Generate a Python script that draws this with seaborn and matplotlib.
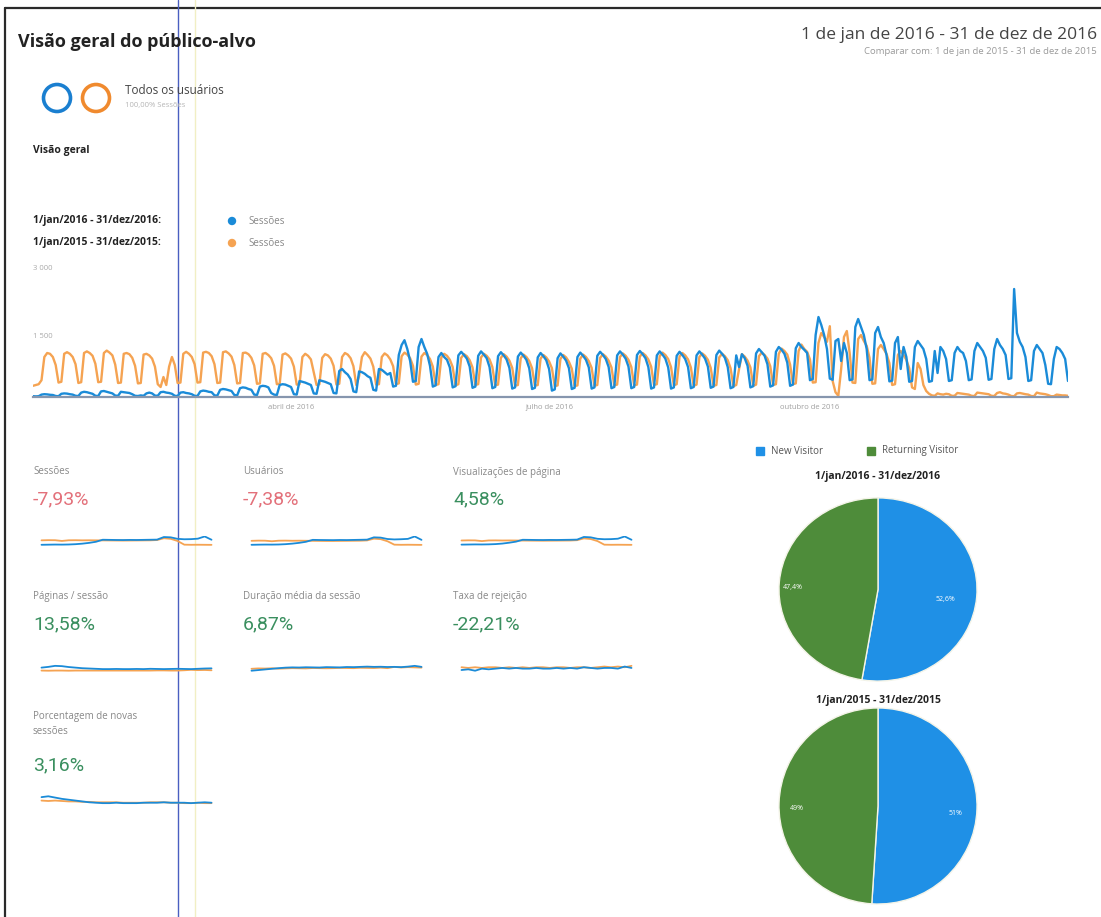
import numpy as np
import matplotlib.pyplot as plt
import matplotlib.patches as mpatches
import seaborn as sns

W, H = 1101, 917

# daily sessions, rows of 7 days starting on Fri 1 Jan
sessions_2016 = [
    20, 15, 20, 60, 70, 65, 55,
    50, 25, 20, 80, 90, 85, 70,
    60, 30, 25, 110, 130, 120, 100,
    80, 30, 25, 140, 150, 130, 110,
    90, 35, 30, 130, 120, 110, 100,
    70, 30, 25, 40, 30, 90, 110,
    90, 35, 30, 120, 130, 110, 100,
    80, 30, 25, 110, 120, 100, 90,
    70, 30, 25, 140, 160, 150, 130,
    120, 40, 35, 180, 200, 190, 170,
    150, 50, 40, 220, 240, 230, 200,
    180, 60, 50, 260, 280, 270, 240,
    100, 60, 50, 300, 320, 310, 280,
    250, 70, 60, 400, 380, 360, 330,
    300, 90, 80, 420, 400, 380, 350,
    320, 100, 90, 650, 700, 620, 560,
    450, 140, 120, 640, 620, 580, 520,
    480, 180, 160, 700, 680, 620, 560,
    600, 260, 280, 1050, 1300, 1420, 1200,
    900, 380, 400, 1250, 1450, 1250, 1080,
    780, 260, 290, 1000, 1100, 1000, 930,
    740, 240, 270, 1040, 1130, 1050, 960,
    760, 230, 260, 1030, 1140, 1060, 970,
    750, 220, 250, 1020, 1120, 1040, 940,
    730, 210, 240, 1010, 1110, 1030, 930,
    720, 200, 230, 990, 1100, 1020, 920,
    700, 160, 190, 970, 1090, 1010, 910,
    720, 200, 230, 1000, 1110, 1030, 930,
    740, 210, 240, 1030, 1130, 1050, 950,
    750, 220, 250, 1040, 1140, 1060, 960,
    760, 220, 250, 1050, 1150, 1070, 970,
    750, 210, 240, 1040, 1140, 1060, 960,
    740, 210, 240, 1030, 1130, 1050, 950,
    750, 220, 250, 1040, 1140, 1060, 960,
    760, 230, 260, 1050, 1160, 1080, 980,
    750, 220, 250, 1040, 750, 1070, 970,
    780, 240, 270, 1090, 1200, 1120, 1030,
    820, 260, 290, 1130, 1250, 1180, 1080,
    860, 280, 310, 1220, 1350, 1250, 1180,
    1100, 420, 450, 1550, 2000, 1800, 1550,
    1200, 460, 430, 1400, 1450, 900, 1350,
    1100, 420, 440, 1750, 1950, 1750, 1550,
    1200, 420, 440, 1600, 1750, 1500, 1350,
    1050, 390, 410, 1350, 1500, 700, 1250,
    1000, 380, 400, 1250, 1400, 1300, 1200,
    950, 380, 400, 1150, 600, 1250, 1150,
    950, 400, 420, 1100, 1250, 1150, 1100,
    900, 420, 440, 1150, 1350, 1250, 1150,
    980, 430, 450, 1200, 1450, 1300, 1200,
    1050, 450, 470, 2700, 1600, 1380, 1250,
    1000, 400, 420, 1150, 1300, 1200, 1100,
    800, 330, 320, 950, 1250, 1200, 1100,
    950, 400,
]

# same dates one year earlier (1 Jan 2015 was a Thursday)
sessions_2015 = [
    280,
    300, 320, 420, 1000, 1100, 1080, 1000,
    800, 360, 380, 1080, 1120, 1080, 1000,
    820, 350, 370, 1100, 1140, 1100, 1030,
    830, 370, 380, 1100, 1160, 1110, 1040,
    810, 350, 360, 1080, 1100, 1070, 980,
    780, 340, 350, 1060, 1080, 1040, 960,
    760, 320, 250, 500, 300, 760, 1000,
    800, 350, 360, 1080, 1130, 1080, 1000,
    820, 360, 370, 1110, 1130, 1100, 1020,
    820, 350, 360, 1120, 1140, 1090, 1010,
    800, 340, 350, 1100, 1110, 1070, 980,
    790, 330, 340, 1080, 1100, 1050, 970,
    780, 320, 330, 1060, 1090, 1040, 960,
    760, 310, 320, 1000, 1080, 1030, 940,
    620, 300, 320, 980, 1070, 1040, 960,
    780, 310, 330, 1000, 1100, 1060, 970,
    770, 300, 520, 1000, 1120, 1050, 960,
    760, 310, 320, 1000, 1090, 1040, 940,
    770, 320, 340, 1020, 1110, 1060, 970,
    780, 310, 330, 1010, 1100, 1050, 950,
    760, 300, 320, 990, 1080, 1030, 930,
    750, 290, 320, 980, 1070, 1020, 920,
    740, 300, 320, 990, 1080, 1030, 940,
    750, 290, 310, 980, 1070, 1010, 910,
    730, 280, 300, 970, 1060, 1000, 900,
    720, 280, 300, 960, 1050, 990, 890,
    720, 270, 290, 950, 1050, 990, 880,
    710, 270, 290, 960, 1060, 1000, 900,
    730, 280, 300, 980, 1070, 1010, 910,
    740, 290, 310, 1000, 1090, 1030, 930,
    750, 290, 310, 1010, 1100, 1040, 940,
    760, 300, 320, 1020, 1110, 1050, 950,
    750, 290, 320, 1010, 1100, 1040, 940,
    740, 280, 310, 1000, 1090, 1030, 930,
    730, 280, 300, 990, 1080, 1020, 920,
    720, 270, 300, 700, 1070, 1010, 910,
    740, 280, 310, 1020, 1110, 1050, 960,
    770, 300, 320, 1080, 1210, 1150, 1060,
    810, 320, 340, 1150, 1310, 1200, 1130,
    940, 360, 370, 1350, 1600, 1500, 1380,
    1770, 400, 120, 30, 700, 1500, 1650,
    1100, 360, 350, 1450, 1550, 1400, 1280,
    980, 330, 340, 1200, 1300, 1200, 1080,
    850, 300, 320, 1050, 1150, 1050, 930,
    720, 240, 200, 850, 700, 300, 150,
    80, 40, 30, 90, 70, 60, 80,
    70, 30, 30, 100, 90, 80, 70,
    60, 30, 25, 110, 100, 90, 80,
    70, 30, 25, 100, 120, 90, 80,
    60, 25, 20, 90, 100, 85, 70,
    60, 25, 20, 110, 90, 80, 70,
    50, 20, 20, 60, 50, 40, 40,
    30,
]

month_ticks = [91, 182, 274]
month_labels = ["abril de 2016", "julho de 2016", "outubro de 2016"]

# sparklines (two-week steps)
sessoes_2015 = [800, 830, 820, 700, 810, 820, 800, 810, 800, 790, 780, 770, 760, 770, 780, 790, 800, 850, 1150, 1050, 700, 80, 60, 70, 60, 50]
sessoes_2016 = [60, 80, 100, 90, 110, 160, 250, 380, 560, 900, 880, 860, 850, 870, 860, 880, 900, 920, 1350, 1300, 1050, 980, 1000, 1080, 1450, 900]
usuarios_2015 = [620, 650, 640, 560, 640, 650, 630, 640, 630, 620, 610, 600, 600, 610, 620, 630, 640, 680, 930, 860, 560, 70, 50, 60, 50, 40]
usuarios_2016 = [50, 70, 85, 80, 95, 140, 220, 330, 480, 760, 740, 730, 720, 740, 730, 750, 770, 790, 1120, 1080, 880, 820, 850, 900, 1250, 760]
visualizacoes_2015 = [880, 910, 900, 770, 890, 900, 880, 890, 880, 870, 860, 850, 840, 850, 860, 870, 880, 940, 1280, 1160, 770, 90, 70, 80, 70, 60]
visualizacoes_2016 = [100, 120, 140, 130, 150, 200, 300, 460, 660, 1020, 1000, 980, 970, 990, 980, 1000, 1020, 1050, 1550, 1480, 1200, 1120, 1140, 1220, 1650, 1020]
paginas_2015 = [1.10, 1.09, 1.10, 1.10, 1.09, 1.10, 1.10, 1.10, 1.10, 1.10, 1.10, 1.10, 1.10, 1.10, 1.10, 1.10, 1.10, 1.11, 1.11, 1.10, 1.10, 1.12, 1.15, 1.13, 1.14, 1.12]
paginas_2016 = [1.30, 1.35, 1.42, 1.40, 1.34, 1.30, 1.26, 1.24, 1.22, 1.20, 1.20, 1.21, 1.20, 1.20, 1.21, 1.20, 1.22, 1.21, 1.20, 1.21, 1.22, 1.21, 1.20, 1.22, 1.24, 1.25]
duracao_2015 = [95, 98, 97, 99, 96, 98, 100, 99, 98, 101, 100, 99, 100, 102, 101, 100, 103, 102, 101, 104, 100, 110, 105, 108, 106, 104]
duracao_2016 = [80, 85, 90, 95, 100, 104, 106, 105, 107, 106, 105, 108, 107, 106, 109, 108, 110, 112, 110, 111, 109, 110, 108, 112, 118, 110]
rejeicao_2015 = [62, 61, 62, 61, 62, 62, 61, 62, 61, 62, 61, 62, 62, 61, 62, 62, 61, 62, 62, 61, 62, 63, 62, 63, 62, 64]
rejeicao_2016 = [58, 59, 57, 60, 59, 60, 61, 60, 61, 60, 60, 61, 60, 60, 61, 60, 61, 60, 62, 61, 60, 61, 61, 60, 63, 61]
novas_2015 = [72, 71, 72, 71, 70, 70, 69, 69, 68, 68, 68, 68, 67, 67, 67, 67, 68, 68, 68, 67, 67, 66, 66, 67, 66, 66]
novas_2016 = [80, 82, 79, 76, 74, 72, 70, 68, 67, 66, 66, 67, 66, 66, 66, 67, 67, 67, 68, 67, 67, 67, 66, 67, 68, 67]

pie_labels = ["New Visitor", "Returning Visitor"]
pie_2016 = [52.6, 47.4]
pie_2015 = [51, 49]
pie_text_2016 = ["52,6%", "47,4%"]
pie_text_2015 = ["51%", "49%"]

BLUE = "#1a8bd8"
ORANGE = "#f5a352"
RED = "#e3707a"
GREEN = "#3a8f5f"
PIE_BLUE = "#1f90e6"
PIE_GREEN = "#4e8c3a"

sns.set_theme(style="white")
plt.rcParams["font.family"] = ["Open Sans", "DejaVu Sans"]

fig = plt.figure(figsize=(W / 100, H / 100), dpi=100)


def box(x0, y0, x1, y1):
    a = fig.add_axes([x0 / W, 1 - y1 / H, (x1 - x0) / W, (y1 - y0) / H])
    a.patch.set_alpha(0)
    return a


# pixel canvas for texts and decorations
cv = fig.add_axes([0, 0, 1, 1])
cv.set_xlim(0, W)
cv.set_ylim(H, 0)
cv.axis("off")


def txt(x, y, s, size, color="#333333", weight="normal", ha="left", **kw):
    cv.text(x, y, s, fontsize=size, color=color, fontweight=weight, ha=ha, va="center", **kw)


# page frame and scan marks
cv.plot([5, 5], [8, H], color="#2a2a2a", lw=1.6)
cv.plot([5, W], [8, 8], color="#2a2a2a", lw=1.6)
cv.plot([178, 178], [0, H], color="#4a5fc1", lw=1.0)
cv.plot([195, 195], [0, H], color="#f1efc4", lw=1.0)

txt(18, 42, "Visão geral do público-alvo", 13, "#222222", "bold")
txt(1097, 35, "1 de jan de 2016 - 31 de dez de 2016", 12.5, "#444444", ha="right")
txt(1097, 52, "Comparar com: 1 de jan de 2015 - 31 de dez de 2015", 6.8, "#9a9a9a", ha="right")

cv.add_patch(mpatches.Circle((57, 98), 13.5, fill=False, ec="#1a7fd0", lw=2.6))
cv.add_patch(mpatches.Circle((96, 98), 13.5, fill=False, ec="#f08a2e", lw=2.6))
txt(125, 90, "Todos os usuários", 8.5, "#444444")
txt(125, 106, "100,00% Sessões", 5.5, "#b5b5b5")
txt(33, 150, "Visão geral", 7.5, "#222222", "bold")

txt(33, 221, "1/jan/2016 - 31/dez/2016:", 7.5, "#222222", "bold")
txt(33, 243, "1/jan/2015 - 31/dez/2015:", 7.5, "#222222", "bold")
cv.add_patch(mpatches.Circle((232, 221), 3.5, color=BLUE))
cv.add_patch(mpatches.Circle((232, 243), 3.5, color=ORANGE))
txt(248, 221, "Sessões", 7, "#888888")
txt(248, 243, "Sessões", 7, "#888888")
txt(33, 268, "3 000", 5.5, "#aaaaaa")
txt(33, 337, "1 500", 5.5, "#aaaaaa")

# main chart
ax = box(33, 262, 1068, 397)
days = np.arange(len(sessions_2016))
sns.lineplot(x=days, y=sessions_2015, ax=ax, color=ORANGE, lw=1.7)
sns.lineplot(x=days, y=sessions_2016, ax=ax, color=BLUE, lw=1.7)
ax.set_xlim(0, len(days) - 1)
ax.set_ylim(0, 3375)
for s in ["top", "right", "left"]:
    ax.spines[s].set_visible(False)
ax.spines["bottom"].set_color("#8696ae")
ax.spines["bottom"].set_linewidth(1.6)
ax.set_yticks([])
ax.set_xticks(month_ticks)
ax.set_xticklabels(month_labels, fontsize=5.5, color="#a0a0a0")
ax.tick_params(axis="x", length=0, pad=5)
ax.set_xlabel("")
ax.set_ylabel("")

# metric sparklines
metrics = [
    ("Sessões", "-7,93%", RED, sessoes_2015, sessoes_2016, 33, 472, True),
    ("Usuários", "-7,38%", RED, usuarios_2015, usuarios_2016, 243, 472, True),
    ("Visualizações de página", "4,58%", GREEN, visualizacoes_2015, visualizacoes_2016, 453, 472, True),
    ("Páginas / sessão", "13,58%", GREEN, paginas_2015, paginas_2016, 33, 597, False),
    ("Duração média da sessão", "6,87%", GREEN, duracao_2015, duracao_2016, 243, 597, False),
    ("Taxa de rejeição", "-22,21%", GREEN, rejeicao_2015, rejeicao_2016, 453, 597, False),
]
for name, val, col, a15, a16, x0, y0, counts in metrics:
    txt(x0, y0, name, 7, "#888888")
    txt(x0, y0 + 27, val, 14, col, family=["Roboto", "DejaVu Sans"])
    sa = box(x0, y0 + 64, x0 + 187, y0 + 81)
    idx = np.arange(len(a15))
    sns.lineplot(x=idx, y=a15, ax=sa, color=ORANGE, lw=1.3)
    sns.lineplot(x=idx, y=a16, ax=sa, color=BLUE, lw=1.3)
    lo, hi = min(a15 + a16), max(a15 + a16)
    if counts:
        sa.set_ylim(-hi * 0.9, hi * 1.05)
    else:
        sa.set_ylim(lo - (hi - lo) * 1.5, hi + (hi - lo) * 1.0)
    sa.axis("off")

txt(33, 717, "Porcentagem de novas", 7, "#888888")
txt(33, 731, "sessões", 7, "#888888")
txt(33, 765, "3,16%", 14, GREEN, family=["Roboto", "DejaVu Sans"])
sa = box(33, 792, 220, 810)
idx = np.arange(len(novas_2015))
sns.lineplot(x=idx, y=novas_2015, ax=sa, color=ORANGE, lw=1.3)
sns.lineplot(x=idx, y=novas_2016, ax=sa, color=BLUE, lw=1.3)
sa.set_ylim(50, 92)
sa.axis("off")

# pies
cv.add_patch(mpatches.Rectangle((756, 447), 8, 8, color=PIE_BLUE))
txt(771, 451, pie_labels[0], 7, "#555555")
cv.add_patch(mpatches.Rectangle((867, 447), 8, 8, color=PIE_GREEN))
txt(882, 451, pie_labels[1], 7, "#555555")
txt(878, 477, "1/jan/2016 - 31/dez/2016", 7.5, "#222222", "bold", ha="center")
txt(878, 701, "1/jan/2015 - 31/dez/2015", 7.5, "#222222", "bold", ha="center")

for vals, labels, rect, radii in [
    (pie_2016, pie_text_2016, (778, 497, 978, 682), [0.68, 0.86]),
    (pie_2015, pie_text_2015, (778, 707, 978, 905), [0.78, 0.82]),
]:
    pa = box(*rect)
    wedges, _ = pa.pie(vals, colors=[PIE_BLUE, PIE_GREEN], startangle=90, counterclock=False,
                       wedgeprops=dict(edgecolor="#f4f4e8", linewidth=1.0))
    pa.set_aspect("auto")
    pa.set_xlim(-1.01, 1.01)
    pa.set_ylim(-1.01, 1.01)
    for w, lab, r in zip(wedges, labels, radii):
        ang = np.deg2rad((w.theta1 + w.theta2) / 2)
        pa.text(r * np.cos(ang), r * np.sin(ang) - 0.05, lab, ha="center", va="center",
                fontsize=5, color="white")

fig.savefig("out.png", dpi=100)
